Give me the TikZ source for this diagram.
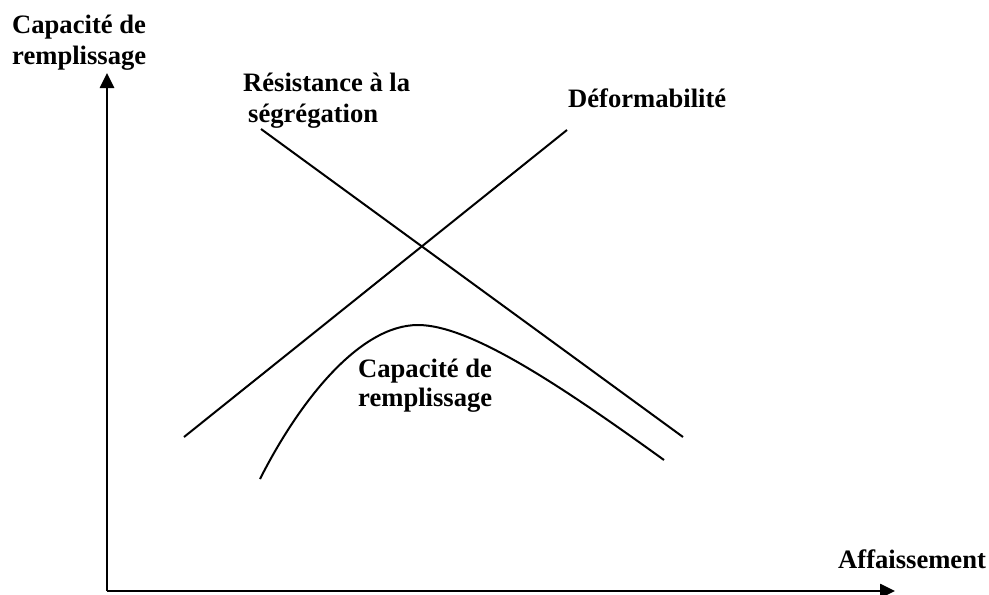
\documentclass[tikz,border=0pt]{standalone}
\usepackage{fontspec}
\setmainfont{Liberation Serif}
\usetikzlibrary{arrows.meta}
\begin{document}
\begin{tikzpicture}[x=1pt,y=-1pt,
  lbl/.style={anchor=base west,inner sep=0pt,font=\fontsize{26.6}{31}\selectfont\bfseries},
  axis/.style={line width=2.6pt,-{Triangle[length=15pt,width=14pt]}},
  curveline/.style={line width=2pt}]
\useasboundingbox (0,0) rectangle (989,595);
\coordinate (o) at (107,591);
\coordinate (ytip) at (107,73);
\coordinate (xtip) at (895,591);
\draw[axis] (o) -- (ytip);
\draw[axis] (o) -- (xtip);
\coordinate (d1) at (184,437);
\coordinate (d2) at (567,130);
\coordinate (r1) at (261,129);
\coordinate (r2) at (683,437);
\draw[curveline] (d1) -- (d2);
\draw[curveline] (r1) -- (r2);
\coordinate (c1) at (260,479);
\coordinate (cp) at (418,325);
\coordinate (c2) at (664,460);
\draw[curveline] (c1) .. controls (300,400) and (360,325) .. (cp)
  .. controls (470,325) and (560,385) .. (c2);
\node[lbl] (yl1) at (12,33) {Capacité de};
\node[lbl] (yl2) at (12,64) {remplissage};
\node[lbl] (rl1) at (243,91) {Résistance à la};
\node[lbl] (rl2) at (248,122) {ségrégation};
\node[lbl] (dl) at (568,107) {Déformabilité};
\node[lbl] (cl1) at (358,377) {Capacité de};
\node[lbl] (cl2) at (358,406) {remplissage};
\node[lbl] (xl) at (838,568) {Affaissement};
\end{tikzpicture}
\end{document}
